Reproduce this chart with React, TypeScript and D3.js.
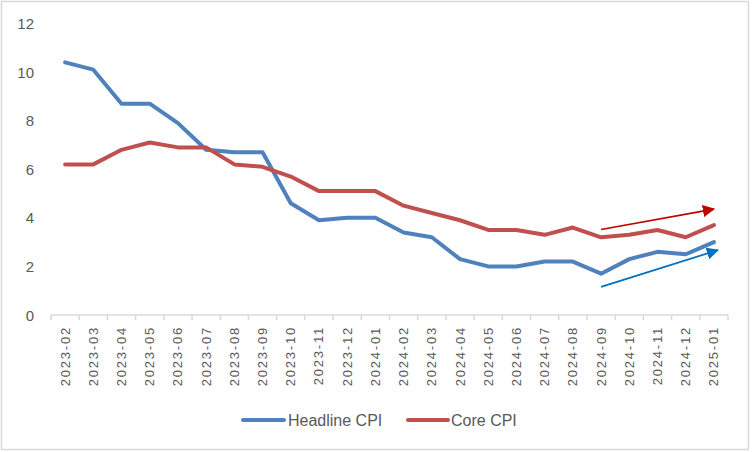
import React from "react";
import * as d3 from "d3";

const categories = [
  "2023-02","2023-03","2023-04","2023-05","2023-06","2023-07","2023-08","2023-09",
  "2023-10","2023-11","2023-12","2024-01","2024-02","2024-03","2024-04","2024-05",
  "2024-06","2024-07","2024-08","2024-09","2024-10","2024-11","2024-12","2025-01",
];
const headlineCPI = [10.4,10.1,8.7,8.7,7.9,6.8,6.7,6.7,4.6,3.9,4.0,4.0,3.4,3.2,2.3,2.0,2.0,2.2,2.2,1.7,2.3,2.6,2.5,3.0];
const coreCPI = [6.2,6.2,6.8,7.1,6.9,6.9,6.2,6.1,5.7,5.1,5.1,5.1,4.5,4.2,3.9,3.5,3.5,3.3,3.6,3.2,3.3,3.5,3.2,3.7];
const yTicks = [0, 2, 4, 6, 8, 10, 12];
// trend arrows: [startIndex, startValue, endIndex, endValue]
const redArrow = [19, 3.52, 23, 4.36];
const blueArrow = [19, 1.16, 23.14, 2.67];

const W = 752, H = 452;
const left = 51, right = 728, y0 = 315, y12 = 23.5;

export default function App() {
  const x = d3.scaleBand<string>().domain(categories).range([left, right]).paddingInner(0).paddingOuter(0);
  const bw = x.bandwidth();
  const xc = (i: number) => left + bw * (i + 0.5);
  const y = d3.scaleLinear().domain([0, 12]).range([y0, y12]);
  const line = d3.line<number>().x((_, i) => xc(i)).y((d) => y(d)).curve(d3.curveLinear);
  const font = "'Liberation Sans', Arial, sans-serif";
  const textColor = "#595959";
  const ticks = d3.range(categories.length + 1).map((i) => left + bw * i);

  return (
    <svg width={W} height={H} style={{ position: "absolute", left: 0, top: 0 }} fontFamily={font}>
      <defs>
        <marker id="arrRed" viewBox="0 0 10 10" refX="9" refY="5" markerWidth="7" markerHeight="7" markerUnits="strokeWidth" orient="auto">
          <path d="M0,0 L10,5 L0,10 z" fill="#C00000" />
        </marker>
        <marker id="arrBlue" viewBox="0 0 10 10" refX="9" refY="5" markerWidth="7" markerHeight="7" markerUnits="strokeWidth" orient="auto">
          <path d="M0,0 L10,5 L0,10 z" fill="#0070C0" />
        </marker>
      </defs>
      <rect x={0} y={0} width={W} height={H} fill="#fff" />
      <rect x={1.5} y={1.5} width={747} height={448} fill="none" stroke="#D9D9D9" strokeWidth={1.5} />
      {yTicks.map((t) => (
        <text key={t} x={34} y={y(t)} textAnchor="end" dominantBaseline="central" fontSize={15} fill={textColor}>
          {t}
        </text>
      ))}
      <line x1={left} x2={right} y1={y0} y2={y0} stroke="#D9D9D9" strokeWidth={1.5} />
      {ticks.map((t, i) => (
        <line key={i} x1={t} x2={t} y1={y0} y2={y0 + 5} stroke="#D9D9D9" strokeWidth={1.5} />
      ))}
      {categories.map((c, i) => (
        <text
          key={c}
          transform={`translate(${xc(i)},${326}) rotate(-90)`}
          textAnchor="end"
          dominantBaseline="central"
          fontSize={13}
          letterSpacing={1.8}
          fill={textColor}
        >
          {c}
        </text>
      ))}
      <path d={line(headlineCPI) || ""} fill="none" stroke="#4F81BD" strokeWidth={4} strokeLinejoin="round" strokeLinecap="round" />
      <path d={line(coreCPI) || ""} fill="none" stroke="#C0504D" strokeWidth={4} strokeLinejoin="round" strokeLinecap="round" />
      <line x1={xc(redArrow[0])} y1={y(redArrow[1])} x2={xc(redArrow[2])} y2={y(redArrow[3])} stroke="#C00000" strokeWidth={1.75} markerEnd="url(#arrRed)" />
      <line x1={xc(blueArrow[0])} y1={y(blueArrow[1])} x2={xc(blueArrow[2])} y2={y(blueArrow[3])} stroke="#0070C0" strokeWidth={1.75} markerEnd="url(#arrBlue)" />
      <line x1={243} x2={284} y1={420} y2={420} stroke="#4F81BD" strokeWidth={4} strokeLinecap="round" />
      <text x={288} y={420} dominantBaseline="central" fontSize={16} fill={textColor}>Headline CPI</text>
      <line x1={408} x2={448} y1={420} y2={420} stroke="#C0504D" strokeWidth={4} strokeLinecap="round" />
      <text x={451} y={420} dominantBaseline="central" fontSize={16} fill={textColor}>Core CPI</text>
    </svg>
  );
}
